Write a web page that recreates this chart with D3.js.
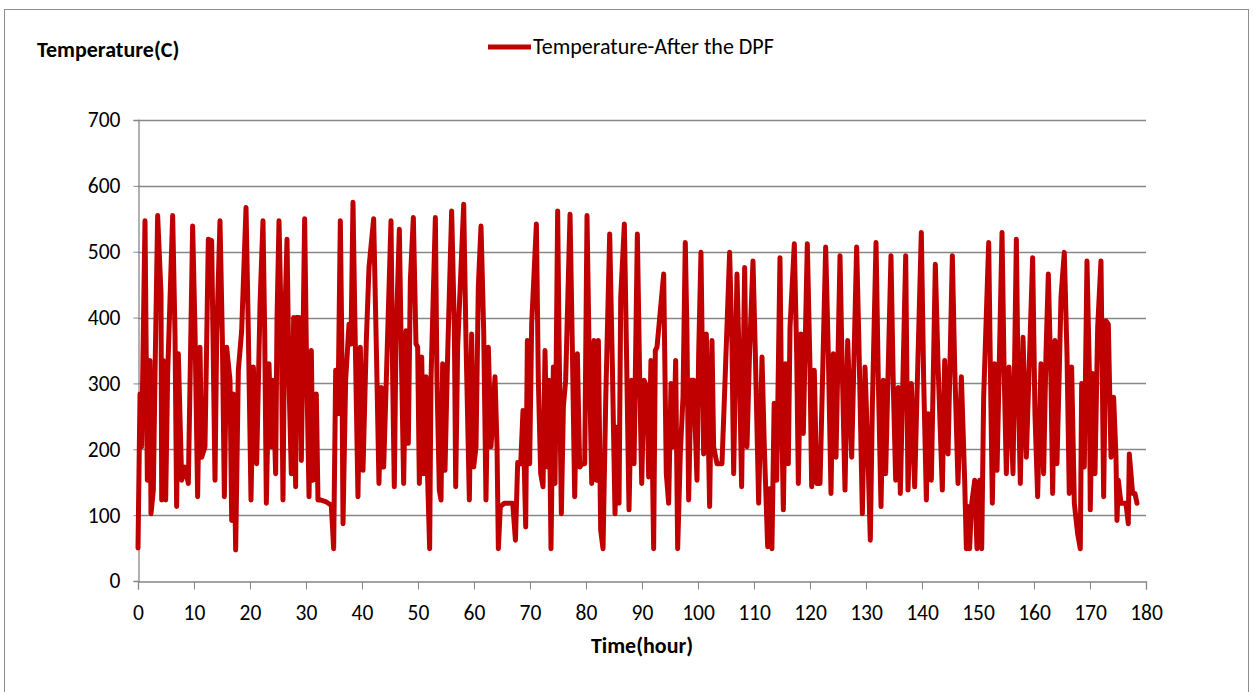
<!DOCTYPE html>
<html><head><meta charset="utf-8">
<script src="https://cdn.jsdelivr.net/npm/d3@7"></script>
<style>
body{margin:0;background:#fff;}
text{font-family:Carlito,'Liberation Sans Narrow','Open Sans',sans-serif;fill:#000;}
</style></head>
<body><svg id="c" width="1253" height="692"></svg>
<script>
const xTicks=[0,10,20,30,40,50,60,70,80,90,100,110,120,130,140,150,160,170,180];
const yTicks=[0,100,200,300,400,500,600,700];
const seriesName="Temperature-After the DPF";
const timeHours=[0,0.36,0.65,1.25,1.67,2.14,2.32,2.74,3.04,3.51,4.11,4.23,4.52,4.94,5.30,6.19,6.61,6.90,7.20,7.80,8.39,8.99,9.76,10.18,10.65,11.07,11.37,11.96,12.56,13.15,13.75,14.05,14.64,15.06,15.42,15.83,16.43,16.73,17.02,17.44,17.92,18.51,19.29,19.70,20.18,20.60,21.19,21.79,
22.32,22.62,22.92,23.39,23.81,24.11,24.58,24.82,25.18,25.59,25.89,26.19,26.61,26.96,27.38,27.80,28.15,28.27,28.75,29.17,29.76,30.06,30.54,30.95,31.25,31.84,32.14,32.56,33.63,34.52,34.94,35.30,35.71,36.13,36.37,36.61,37.08,37.68,38.03,38.39,38.69,39.28,39.70,40.18,40.77,41.25,42.08,42.56,43.03,43.45,43.87,44.34,
45.18,45.48,45.77,46.07,46.67,46.97,47.44,47.86,48.27,48.63,49.17,49.64,49.94,50.24,50.66,51.01,51.43,51.73,52.08,52.32,53.10,53.39,53.81,54.11,54.40,54.82,55.30,56.01,56.49,56.73,57.08,58.16,58.57,59.17,59.58,59.94,60.36,60.77,61.25,61.73,62.14,62.56,63.04,63.75,64.11,64.35,64.70,65.42,66.91,67.4,67.8,68.34,
68.75,69.23,69.53,69.94,70.30,71.14,71.49,71.91,72.33,72.68,73.10,73.40,73.75,74.17,74.47,74.94,75.18,75.60,75.96,76.37,77.15,77.56,77.98,78.46,78.87,79.35,79.77,80.18,80.54,81.02,81.43,81.85,82.21,82.62,83.04,83.52,84.23,84.71,85.18,85.60,85.90,86.20,86.85,87.20,87.68,88.16,88.58,89.17,89.59,89.95,90.36,
90.89,91.19,91.60,92.08,92.38,92.68,93.87,94.34,94.76,95.18,95.65,96.01,96.37,96.84,97.32,97.73,98.03,98.33,98.75,99.22,99.82,100.12,100.53,101.01,101.49,102.08,102.50,102.79,103.39,104.28,104.70,105.65,106.07,106.37,106.96,107.44,107.79,108.33,108.75,109.2,109.82,110.24,110.83,111.43,111.84,112.44,112.8,113.2,113.6,
114.05,114.64,114.94,115.24,115.65,116.13,116.43,117.20,117.62,117.92,118.39,118.81,119.52,120.0,120.30,120.77,121.19,121.79,122.80,123.27,123.75,124.17,124.64,125.36,125.65,126.25,126.73,127.44,128.33,128.75,129.35,129.82,130.30,130.77,131.13,131.79,132.20,132.68,133.10,133.51,134.46,134.88,135.30,135.77,136.13,
137.09,137.50,138.10,138.69,139.11,139.88,140.30,140.78,141.07,141.67,142.38,142.86,143.63,144.05,144.65,145.42,145.84,146.43,147.03,147.62,147.92,148.22,148.51,148.81,149.41,149.82,150.30,150.66,151.01,151.91,152.21,152.56,152.98,153.40,154.29,154.65,155.06,155.54,156.25,156.85,157.15,157.56,158.04,158.63,
159.76,160.17,160.65,161.25,161.72,162.14,162.56,163.03,163.33,163.75,164.10,164.52,164.82,165.41,165.89,166.30,166.72,167.20,167.79,168.27,168.51,168.98,169.46,169.88,170.05,170.47,170.89,171.37,171.96,172.44,172.85,173.27,173.75,174.22,174.64,174.82,175.06,175.53,176.42,176.84,177.02,177.61,178.03,178.39];
const temperatureC=[50,284,204,547,153,335,102,138,315,555,436,123,335,123,315,555,375,113,345,153,173,148,539,380,128,355,188,204,519,517,153,370,547,370,128,355,305,92,284,47,320,380,567,380,123,325,178,420,
547,380,118,330,204,305,163,395,547,380,123,390,519,305,163,400,143,400,400,183,550,355,128,350,153,284,123,123,120,115,49,320,254,547,380,87,305,390,360,575,416,128,355,168,365,476,550,355,148,294,173,305,
547,305,143,365,534,370,148,380,209,456,552,360,355,148,340,163,310,153,49,305,552,305,138,123,330,168,345,562,385,143,355,572,365,123,375,173,204,446,539,380,123,355,204,310,204,49,113,118,118,62,180,178,
259,82,365,178,390,542,305,163,143,350,173,305,49,325,148,562,370,102,264,305,557,355,128,345,173,178,178,555,355,148,365,153,365,77,49,274,527,325,102,234,118,431,542,365,108,305,178,527,305,148,305,
294,158,335,49,350,355,466,163,118,300,204,335,49,193,279,514,375,123,305,305,153,345,499,193,375,113,365,204,178,178,274,499,355,163,466,305,143,476,204,345,486,345,118,340,204,52,140,49,270,
153,491,254,108,330,178,385,512,345,148,375,224,512,325,143,320,148,148,507,345,133,345,188,494,365,138,365,188,507,355,102,325,204,62,264,514,305,113,305,163,494,294,153,294,133,
494,138,300,143,284,529,305,123,254,153,481,330,138,335,193,494,325,148,310,153,49,113,49,113,153,49,153,49,279,514,325,118,330,168,529,325,163,325,163,519,305,148,370,188,
491,254,128,330,163,345,466,305,133,365,178,320,431,499,345,133,325,118,72,49,300,173,486,320,108,315,163,385,486,128,395,390,188,279,188,92,153,118,118,87,193,133,133,118];

const svg=d3.select("#c");
const FONT="Carlito,'Liberation Sans Narrow','Open Sans',sans-serif";
svg.append("rect").attr("x",4.5).attr("y",9.5).attr("width",1244).attr("height",700).attr("fill","#fff").attr("stroke","#8c8c8c").attr("stroke-width",1);

const x=d3.scaleLinear().domain([0,180]).range([138,1146]);
const y=d3.scaleLinear().domain([0,700]).range([581,120]);

// gridlines
svg.append("g").selectAll("line").data(yTicks.filter(d=>d>0)).join("line")
  .attr("x1",138).attr("x2",1146).attr("y1",d=>Math.round(y(d))+0.5).attr("y2",d=>Math.round(y(d))+0.5)
  .attr("stroke","#878787").attr("stroke-width",1.3);

// y axis
const ya=svg.append("g").attr("transform","translate(138.5,0)")
  .call(d3.axisLeft(y).tickValues(yTicks).tickSize(5).tickPadding(13).tickFormat(d3.format("d")));
ya.select(".domain").attr("stroke","#878787").attr("stroke-width",1.3);
ya.selectAll(".tick line").attr("stroke","#878787");
ya.selectAll(".tick text").attr("font-size",21.5).attr("fill","#000").style("font-family",FONT);

// x axis
const xa=svg.append("g").attr("transform","translate(0,581.5)")
  .call(d3.axisBottom(x).tickValues(xTicks).tickSize(8).tickPadding(15).tickFormat(d3.format("d")));
xa.select(".domain").attr("stroke","#878787").attr("stroke-width",1.3);
xa.selectAll(".tick line").attr("stroke","#878787");
xa.selectAll(".tick text").attr("font-size",21.5).attr("fill","#000").style("font-family",FONT);

// line
const pts=timeHours.map((t,i)=>[t,temperatureC[i]]);
svg.append("path").datum(pts)
  .attr("fill","none").attr("stroke","#C00000").attr("stroke-width",5).attr("stroke-linejoin","round").attr("stroke-linecap","round")
  .attr("d",d3.line().x(d=>x(d[0])).y(d=>y(d[1])));

// titles
svg.append("text").attr("x",37).attr("y",57).attr("font-size",22).attr("font-weight","bold").text("Temperature(C)");
svg.append("text").attr("x",x(90)).attr("y",653).attr("text-anchor","middle").attr("font-size",22).attr("font-weight","bold").text("Time(hour)");

// legend
svg.append("line").attr("x1",488).attr("x2",531).attr("y1",47).attr("y2",47).attr("stroke","#C00000").attr("stroke-width",5);
svg.append("text").attr("x",533).attr("y",54).attr("font-size",22).text(seriesName);
</script></body></html>
